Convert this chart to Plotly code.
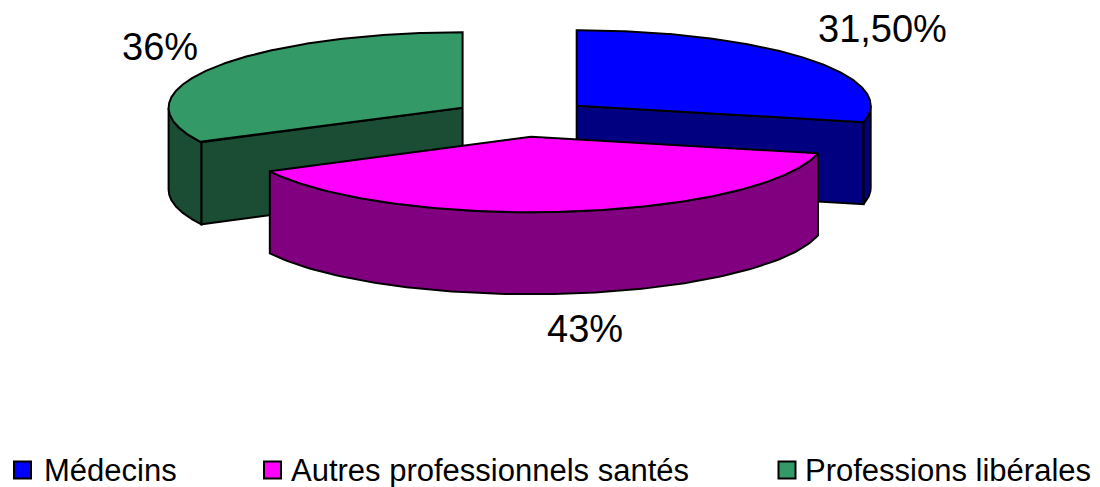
import numpy as np
import plotly.graph_objects as go

categories = ["Médecins", "Autres professionnels santés", "Professions libérales"]
values = [31.5, 43, 36]
value_labels = ["31,50%", "43%", "36%"]
top_colors = ["#0000FF", "#FF00FF", "#339966"]
side_colors = ["#000080", "#800080", "#1A4D33"]

CX, CY, RX, RY, DEPTH = 522.2, 117.7, 294.0, 75.5, 82.0
EX, EY = 69.8, 19.2
LABEL_POS = [(882, 29), (585, 329), (160, 47)]
KEY_X = [22.5, 272.5, 787]
KEY_TEXT_X = [43, 290, 804]
KEY_Y = 470


def pt(cx, cy, a):
    return cx + RX * np.sin(a), cy - RY * np.cos(a)


def closed(xs, ys):
    return list(xs) + [xs[0]], list(ys) + [ys[0]]


fig = go.Figure()
total = sum(values)
edges = np.cumsum([0] + values) / total * 2 * np.pi
slices = []
for i, v in enumerate(values):
    a0, a1 = edges[i], edges[i + 1]
    mid = (a0 + a1) / 2
    slices.append((i, a0, a1, CX + EX * np.sin(mid), CY - EY * np.cos(mid)))


def poly(xs, ys, color, name):
    x, y = closed(xs, ys)
    fig.add_trace(go.Scatter(x=x, y=y, mode="lines", fill="toself", fillcolor=color, name=name,
                             line=dict(color="black", width=2), showlegend=False,
                             hoverinfo="skip"))


for i, a0, a1, cx, cy in [slices[0], slices[2], slices[1]]:
    # cut faces visible from the front
    if i == 0:
        ex, ey = pt(cx, cy, a1)
        poly([cx, ex, ex, cx], [cy, ey, ey + DEPTH, cy + DEPTH], side_colors[i], categories[i])
    if i == 2:
        ex, ey = pt(cx, cy, a0)
        poly([cx, ex, ex, cx], [cy, ey, ey + DEPTH, cy + DEPTH], side_colors[i], categories[i])
    # outer rim, front half only
    lo, hi = max(a0, np.pi / 2), min(a1, 3 * np.pi / 2)
    if hi > lo:
        t = np.linspace(lo, hi, 120)
        rx, ry = pt(cx, cy, t)
        poly(np.r_[rx, rx[::-1]], np.r_[ry, ry[::-1] + DEPTH], side_colors[i], categories[i])
    # top face
    t = np.linspace(a0, a1, 240)
    tx, ty = pt(cx, cy, t)
    poly(np.r_[cx, tx], np.r_[cy, ty], top_colors[i], categories[i])

# legend keys
for i, name in enumerate(categories):
    fig.add_trace(go.Scatter(x=[KEY_X[i]], y=[KEY_Y], mode="markers", name=name, showlegend=False,
                             hoverinfo="name",
                             marker=dict(symbol="square", size=17, color=top_colors[i],
                                         line=dict(color="black", width=2))))

annotations = [dict(x=x, y=y, text=t, showarrow=False, xref="x", yref="y",
                    font=dict(size=38, color="black"))
               for t, (x, y) in zip(value_labels, LABEL_POS)]
annotations += [dict(x=x, y=KEY_Y, text=t, showarrow=False, xref="x", yref="y", xanchor="left",
                     xshift=-1, font=dict(size=31, color="black"))
                for t, x in zip(categories, KEY_TEXT_X)]

fig.update_layout(
    width=1100, height=487, margin=dict(l=0, r=0, t=0, b=0),
    paper_bgcolor="white", plot_bgcolor="white", showlegend=False,
    font=dict(family="Liberation Sans, Arial, sans-serif"),
    xaxis=dict(range=[0, 1100], visible=False, fixedrange=True),
    yaxis=dict(range=[487, 0], visible=False, fixedrange=True),
    annotations=annotations,
)
fig.write_html("out.html", config=dict(displayModeBar=False),
               post_script="document.body.style.margin='0';document.documentElement.style.overflow='hidden';")
